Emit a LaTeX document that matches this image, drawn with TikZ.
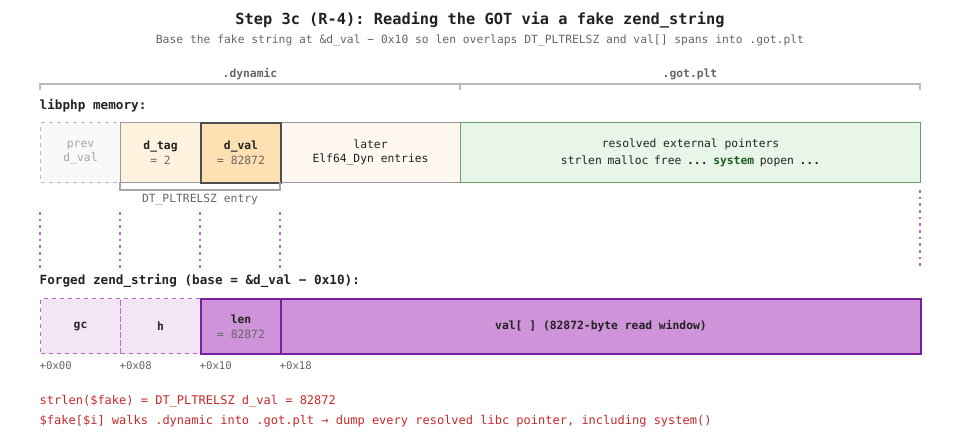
\documentclass[tikz,border=0pt]{standalone}
\usepackage{fontspec}
\setmonofont{DejaVu Sans Mono}
\definecolor{txt}{HTML}{222222}
\definecolor{gr}{HTML}{666666}
\definecolor{lg}{HTML}{BBBBBB}
\definecolor{pur}{HTML}{7B1FA2}
\definecolor{lpur}{HTML}{BA68C8}
\definecolor{pfill}{HTML}{CE93D8}
\definecolor{lpfill}{HTML}{F3E5F5}
\definecolor{redt}{HTML}{C62828}
\definecolor{grn}{HTML}{1B5E20}
\definecolor{gbord}{HTML}{6A9F6A}
\definecolor{gfill}{HTML}{E8F5E9}
\definecolor{o1}{HTML}{FFF3E0}
\definecolor{o2}{HTML}{FFE0B2}
\definecolor{o3}{HTML}{FFF8F0}
\begin{document}
\begin{tikzpicture}[x=0.75pt,y=-0.75pt,font=\ttfamily\fontsize{8.5}{10.5}\selectfont,
 box/.style={draw,minimum height=45pt,inner sep=0pt,anchor=north west,align=center},
 box2/.style={draw,minimum height=41.25pt,inner sep=0pt,anchor=north west,align=center},
 lbl/.style={text=txt,font=\ttfamily\bfseries\fontsize{9.5}{11}\selectfont,anchor=west},
 vdot/.style={draw=lpur,line width=1.2pt,dash pattern=on 2pt off 3pt},
 off/.style={text=gr,anchor=west,font=\ttfamily\fontsize{8}{9}\selectfont}]
\useasboundingbox (0,0) rectangle (960,440);
\node[font=\ttfamily\bfseries\fontsize{11.5}{13}\selectfont,text=txt] (title) at (480,20) {Step 3c (R-4): Reading the GOT via a fake zend\_string};
\node[text=gr] (sub) at (480,40) {Base the fake string at \&d\_val − 0x10 so len overlaps DT\_PLTRELSZ and val[] spans into .got.plt};
\draw[lg,line width=1pt] (40,90) -- (40,84) -- (920,84) -- (920,90) (460,84) -- (460,90);
\node[text=gr,font=\ttfamily\bfseries\fontsize{8.5}{10}\selectfont] (dyn) at (250,74) {.dynamic};
\node[text=gr,font=\ttfamily\bfseries\fontsize{8.5}{10}\selectfont] (got) at (690,74) {.got.plt};
\node[lbl] (lib) at (35,106) {libphp memory:};
\node[box,draw=lg,dashed,fill=gray!5,minimum width=60pt,text=gray!70,line width=0.8pt] (prev) at (40,122) {prev\\d\_val};
\node[box,draw=gray!80,fill=o1,minimum width=60pt,line width=0.8pt] (dtag) at (120,122) {\textbf{\color{txt}d\_tag}\\[1pt]{\color{gr}= 2}};
\node[box,draw=gray!80,fill=o3,minimum width=135pt,line width=0.8pt,text=txt] (later) at (280,122) {later\\Elf64\_Dyn entries};
\node[box,draw=txt!80,fill=o2,minimum width=60pt,line width=1.5pt] (dval) at (200,122) {\textbf{\color{txt}d\_val}\\[1pt]{\color{gr}= 82872}};
\node[box,draw=gbord,fill=gfill,minimum width=345pt,line width=0.8pt,text=txt] (gotb) at (460,122) {resolved external pointers\\[2pt]strlen\enspace malloc\enspace free\enspace \textbf{...}\enspace {\bfseries\color{grn}system}\enspace popen\enspace \textbf{...}};
\draw[gray!70,line width=0.8pt] (120,182) -- (120,190) -- (280,190) -- (280,182);
\node[text=gr] (dtl) at (200,200) {DT\_PLTRELSZ entry};
\foreach \x/\n in {40/a,120/b,200/c,280/d}{\coordinate (t\n) at (\x,212); \coordinate (u\n) at (\x,268); \draw[vdot] (t\n) -- (u\n);}
\coordinate (te) at (920,190); \coordinate (ue) at (920,266); \draw[vdot] (te) -- (ue);
\node[lbl] (forg) at (35,281) {Forged zend\_string (base = \&d\_val − 0x10):};
\node[box2,draw=lpur,dashed,fill=lpfill,minimum width=60pt,line width=0.8pt,font=\ttfamily\bfseries\fontsize{8.5}{10}\selectfont,text=txt] (gc) at (40,298) {gc};
\node[box2,draw=lpur,dashed,fill=lpfill,minimum width=60pt,line width=0.8pt,font=\ttfamily\bfseries\fontsize{8.5}{10}\selectfont,text=txt] (h) at (120,298) {h};
\node[box2,draw=pur,fill=pfill,minimum width=480pt,line width=1.5pt,font=\ttfamily\bfseries\fontsize{8.5}{10}\selectfont,text=txt] (val) at (280,298) {val[ ] (82872-byte read window)};
\node[box2,draw=pur,fill=pfill,minimum width=60pt,line width=1.5pt] (len) at (200,298) {\textbf{\color{txt}len}\\[1pt]{\color{gr}= 82872}};
\foreach \x/\t in {40/00,120/08,200/10,280/18}{\node[off] (o\t) at (\x-5,366) {+0x\t};}
\node[text=redt,anchor=west,font=\ttfamily\fontsize{9}{10}\selectfont] (r1) at (35,401) {strlen(\$fake) = DT\_PLTRELSZ d\_val = 82872};
\node[text=redt,anchor=west,font=\ttfamily\fontsize{9}{10}\selectfont] (r2) at (35,421) {\$fake[\$i] walks .dynamic into .got.plt → dump every resolved libc pointer, including system()};
\end{tikzpicture}
\end{document}
